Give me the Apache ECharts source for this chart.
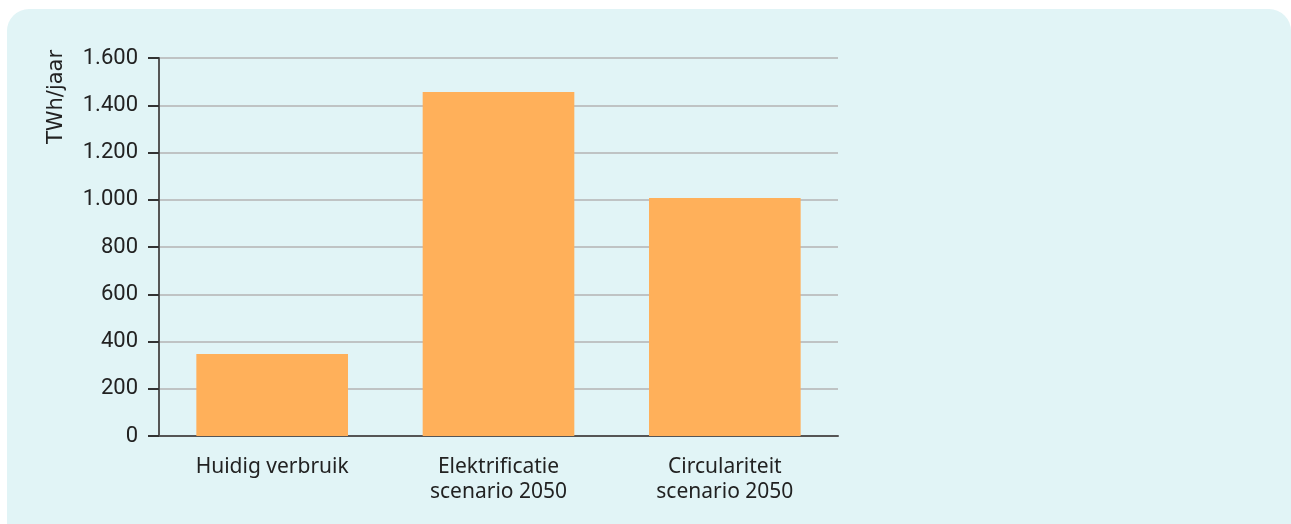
<!DOCTYPE html>
<html>
<head>
<meta charset="utf-8">
<script src="https://cdn.jsdelivr.net/npm/echarts@6/dist/echarts.min.js"></script>
<style>
  html, body { margin: 0; padding: 0; background: #ffffff; }
  #main { width: 1291px; height: 524px; }
</style>
</head>
<body>
<div id="main"></div>
<script>
// values (TWh/jaar)
var categories = ['Huidig verbruik', 'Elektrificatie\nscenario 2050', 'Circulariteit\nscenario 2050'];
var verbruik = [347, 1456, 1007];
var yTicks = [0, 200, 400, 600, 800, 1000, 1200, 1400, 1600];

var myChart = echarts.init(document.getElementById('main'));

function dotThousands(v) {
    // dutch style: 1.600
    return String(v).replace(/\B(?=(\d{3})+(?!\d))/g, '.');
}

var option = {
    animation: false,
    graphic: [
        {
            type: 'rect',
            z: -10,
            shape: { x: 7, y: 9, width: 1284, height: 530, r: [22, 22, 0, 0] },
            style: { fill: '#e1f4f6' }
        },
        {
            type: 'text',
            x: 57,
            y: 97,
            rotation: Math.PI / 2,
            style: {
                text: 'TWh/jaar',
                font: '21px "DejaVu Sans"',
                fill: '#222222',
                align: 'center',
                verticalAlign: 'middle'
            }
        }
    ],
    grid: { left: 159, top: 58, right: 453, bottom: 88, containLabel: false },
    xAxis: {
        type: 'category',
        data: categories,
        axisLine: { lineStyle: { color: '#555555', width: 2 } },
        axisTick: { alignWithLabel: true, length: 10, lineStyle: { color: '#333333', width: 2 } },
        axisLabel: {
            color: '#222222',
            fontFamily: 'Noto Sans',
            fontSize: 21,
            lineHeight: 25,
            margin: 19,
            interval: 0
        }
    },
    yAxis: {
        type: 'value',
        min: 0,
        max: yTicks[yTicks.length - 1],
        interval: yTicks[1] - yTicks[0],
        axisLine: { show: true, lineStyle: { color: '#555555', width: 2 } },
        axisTick: { show: true, length: 11, lineStyle: { color: '#333333', width: 2 } },
        axisLabel: {
            color: '#222222',
            fontFamily: 'Roboto',
            fontSize: 22,
            margin: 21,
            formatter: dotThousands
        },
        splitLine: { lineStyle: { color: '#b3b3b3', width: 1.5 } }
    },
    series: [{
        type: 'bar',
        data: verbruik,
        barCategoryGap: '33%',
        itemStyle: { color: '#ffb05a' }
    }]
};
myChart.setOption(option);
</script>
</body>
</html>
